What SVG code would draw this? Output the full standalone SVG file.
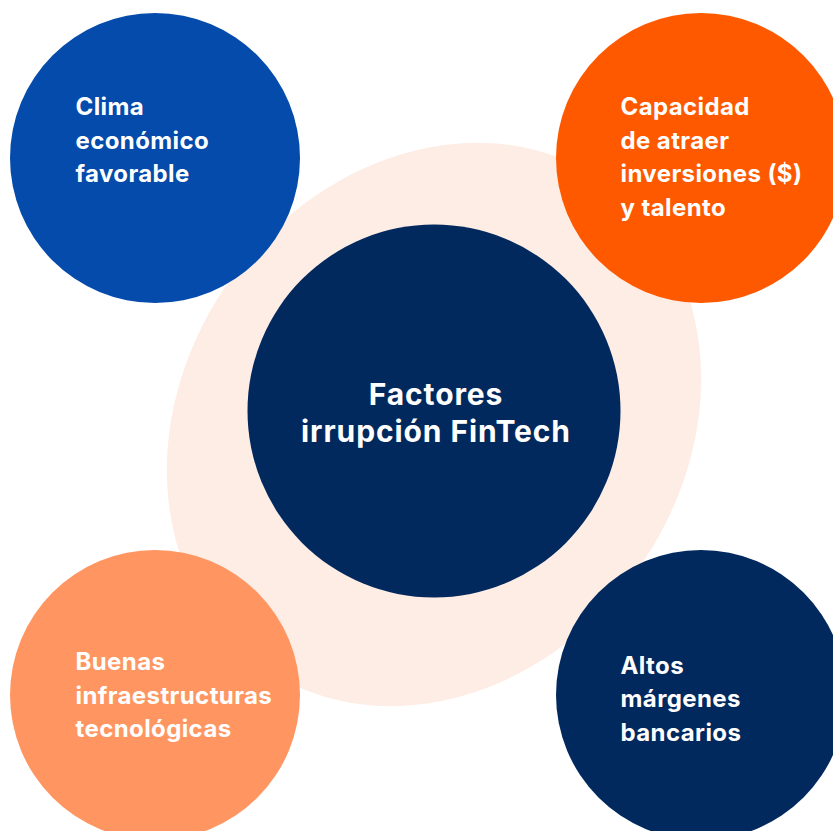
<svg xmlns="http://www.w3.org/2000/svg" width="833" height="831" viewBox="0 0 833 831">
  <style>
    .lbl { font-family: Inter, "Noto Sans", "Liberation Sans", sans-serif; font-weight: 700; fill: #ffffff; font-size: 24px; letter-spacing: 0.4px; }
    .ctr { font-family: Inter, "Noto Sans", "Liberation Sans", sans-serif; font-weight: 700; fill: #ffffff; font-size: 30px; letter-spacing: 0.9px; text-anchor: middle; }
  </style>
  <rect width="833" height="831" fill="#ffffff"/>
  <g id="backdrop">
    <ellipse cx="434" cy="424.5" rx="297" ry="250" transform="rotate(-54 434 424.5)" fill="#FEEDE5"/>
  </g>
  <g id="connectors"/>
  <g id="center">
    <circle cx="434" cy="411" r="186.5" fill="#02295E"/>
    <text class="ctr" x="436" y="405">Factores</text>
    <text class="ctr" x="436" y="441.5">irrupción FinTech</text>
  </g>
  <g id="clima">
    <circle cx="155" cy="158" r="145" fill="#044BAB"/>
    <text class="lbl" x="75.5" y="115">Clima</text>
    <text class="lbl" x="75.5" y="148.5">económico</text>
    <text class="lbl" x="75.5" y="182">favorable</text>
  </g>
  <g id="capacidad">
    <circle cx="701" cy="158" r="145" fill="#FF5900"/>
    <text class="lbl" x="620.5" y="115">Capacidad</text>
    <text class="lbl" x="620.5" y="148.5">de atraer</text>
    <text class="lbl" x="620.5" y="182">inversiones ($)</text>
    <text class="lbl" x="620.5" y="215.5">y talento</text>
  </g>
  <g id="infraestructuras">
    <circle cx="155" cy="695" r="145" fill="#FF9662"/>
    <text class="lbl" x="75.5" y="670">Buenas</text>
    <text class="lbl" x="75.5" y="703.5">infraestructuras</text>
    <text class="lbl" x="75.5" y="737">tecnológicas</text>
  </g>
  <g id="margenes">
    <circle cx="701" cy="695" r="145" fill="#02295E"/>
    <text class="lbl" x="620.5" y="673.5">Altos</text>
    <text class="lbl" x="620.5" y="707">márgenes</text>
    <text class="lbl" x="620.5" y="741">bancarios</text>
  </g>
</svg>
